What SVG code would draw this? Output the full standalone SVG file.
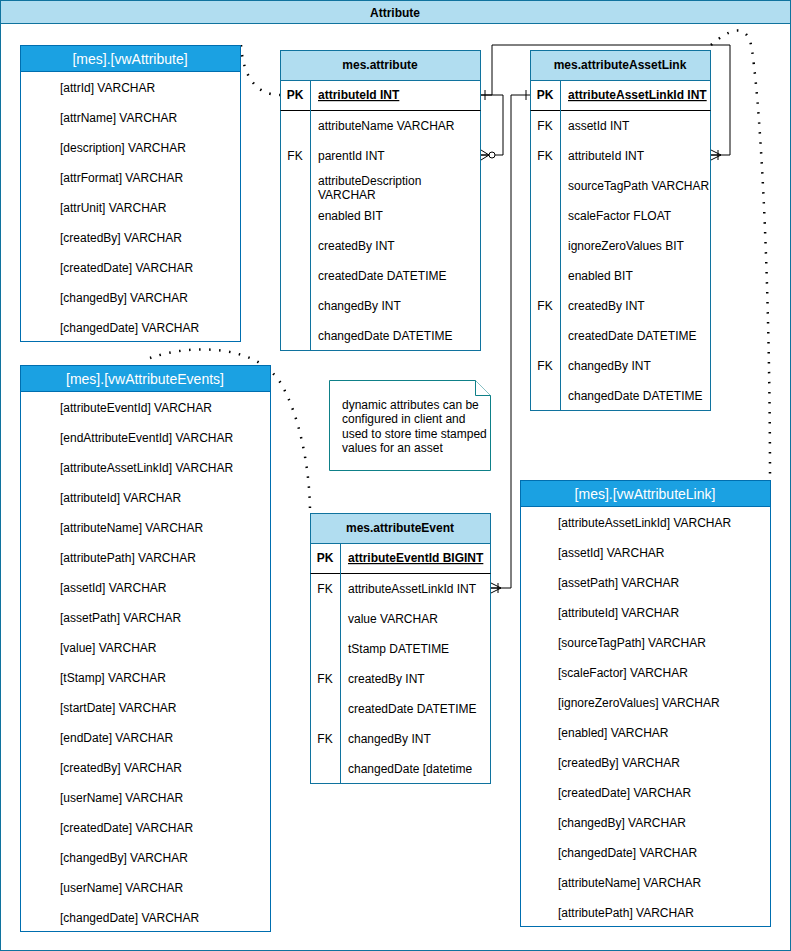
<svg xmlns="http://www.w3.org/2000/svg" width="791" height="951" viewBox="0 0 791 951">
<style>
text{font-family:"Liberation Sans",Arial,sans-serif;font-size:12px;fill:#000}
.title{font-weight:bold;text-anchor:middle}
.vh{font-size:14px;fill:#fff;text-anchor:middle}
.th{font-weight:bold;text-anchor:middle}
.key{text-anchor:middle}
.pk{font-weight:bold;text-decoration:underline}
.pkl{font-weight:bold;text-anchor:middle}
.box{fill:#fff;stroke:#10739E;stroke-width:1}
.hdr{fill:#B1DDF0;stroke:#10739E;stroke-width:1}
.vbox{fill:#fff;stroke:#006EAF;stroke-width:1}
.vhdr{fill:#1BA1E2;stroke:#006EAF;stroke-width:1}
.ln{stroke:#000;stroke-width:1;fill:none}
.dot{stroke:#000;stroke-width:2.5;fill:none;stroke-dasharray:1.5 8.5;stroke-linecap:butt}
.note{fill:#fff;stroke:#0E8088;stroke-width:1}
</style>
<defs>
<marker id="one" markerUnits="userSpaceOnUse" viewBox="-2 -7 14 14" refX="0" refY="0" markerWidth="14" markerHeight="14" orient="auto" overflow="visible">
<path d="M4,-5 L4,5" stroke="#000" stroke-width="1" fill="none"/>
</marker>
<marker id="oneMany" markerUnits="userSpaceOnUse" viewBox="-14 -7 16 14" refX="0" refY="0" markerWidth="16" markerHeight="14" orient="auto" overflow="visible">
<path d="M-10,0 L0,-5 M-10,0 L0,5 M-10,0 L0,0 M-7,-5 L-7,5" stroke="#000" stroke-width="1" fill="none"/>
</marker>
<marker id="zeroMany" markerUnits="userSpaceOnUse" viewBox="-16 -7 18 14" refX="0" refY="0" markerWidth="18" markerHeight="14" orient="auto" overflow="visible">
<path d="M-8,0 L0,-5 M-8,0 L0,5 M-8,0 L0,0" stroke="#000" stroke-width="1" fill="none"/>
<circle cx="-11" cy="0" r="3" fill="#fff" stroke="#000" stroke-width="1"/>
</marker>
</defs>

<g id="container">
<rect x="0.5" y="0.5" width="790" height="950" fill="#fff" stroke="#10739E"/>
<rect x="0.5" y="0.5" width="790" height="23" class="hdr"/>
<text x="395" y="17" class="title">Attribute</text>
</g>

<g id="connectors">
<path class="dot" d="M241,45 C243,75 255,95 280,95"/>
<path class="dot" d="M150,358 C190,344 255,344 280,382 C300,415 310,470 310,513"/>
<path class="dot" d="M711,45 C728,30 748,20 752,50 C762,120 770,300 770,480"/>
<path class="ln" d="M481,95 L503,95 L503,155 L481,155" marker-start="url(#one)" marker-end="url(#zeroMany)"/>
<path class="ln" d="M481,95 L492,95 L492,45 L730,45 L730,155 L711,155" marker-end="url(#oneMany)"/>
<path class="ln" d="M530,95 L511,95 L511,588 L491,588" marker-start="url(#one)" marker-end="url(#oneMany)"/>
</g>

<g id="vwAttribute">
<rect x="20.5" y="45.5" width="220" height="296" class="vbox"/>
<rect x="20.5" y="45.5" width="220" height="26" class="vhdr"/>
<text x="130" y="64" class="vh">[mes].[vwAttribute]</text>
<text x="60" y="92">[attrId] VARCHAR</text>
<text x="60" y="122">[attrName] VARCHAR</text>
<text x="60" y="152">[description] VARCHAR</text>
<text x="60" y="182">[attrFormat] VARCHAR</text>
<text x="60" y="212">[attrUnit] VARCHAR</text>
<text x="60" y="242">[createdBy] VARCHAR</text>
<text x="60" y="272">[createdDate] VARCHAR</text>
<text x="60" y="302">[changedBy] VARCHAR</text>
<text x="60" y="332">[changedDate] VARCHAR</text>
</g>

<g id="mes.attribute">
<rect x="280.5" y="50.5" width="200" height="300" class="box"/>
<rect x="280.5" y="50.5" width="200" height="30" class="hdr"/>
<text x="380" y="69" class="th">mes.attribute</text>
<line x1="280.5" y1="110.5" x2="480.5" y2="110.5" stroke="#000"/>
<line x1="310.5" y1="80.5" x2="310.5" y2="350.5" stroke="#10739E"/>
<text x="295" y="99" class="pkl">PK</text>
<text x="318" y="99" class="pk">attributeId INT</text>
<text x="318" y="130">attributeName VARCHAR</text>
<text x="295" y="160" class="key">FK</text>
<text x="318" y="160">parentId INT</text>
<text x="318" y="185">attributeDescription</text>
<text x="318" y="199">VARCHAR</text>
<text x="318" y="220">enabled BIT</text>
<text x="318" y="250">createdBy INT</text>
<text x="318" y="280">createdDate DATETIME</text>
<text x="318" y="310">changedBy INT</text>
<text x="318" y="340">changedDate DATETIME</text>
</g>

<g id="mes.attributeAssetLink">
<rect x="530.5" y="50.5" width="180" height="360" class="box"/>
<rect x="530.5" y="50.5" width="180" height="30" class="hdr"/>
<text x="620" y="69" class="th">mes.attributeAssetLink</text>
<line x1="530.5" y1="110.5" x2="710.5" y2="110.5" stroke="#000"/>
<line x1="560.5" y1="80.5" x2="560.5" y2="410.5" stroke="#10739E"/>
<text x="545" y="99" class="pkl">PK</text>
<text x="568" y="99" class="pk">attributeAssetLinkId INT</text>
<text x="545" y="130" class="key">FK</text>
<text x="568" y="130">assetId INT</text>
<text x="545" y="160" class="key">FK</text>
<text x="568" y="160">attributeId INT</text>
<text x="568" y="190">sourceTagPath VARCHAR</text>
<text x="568" y="220">scaleFactor FLOAT</text>
<text x="568" y="250">ignoreZeroValues BIT</text>
<text x="568" y="280">enabled BIT</text>
<text x="545" y="310" class="key">FK</text>
<text x="568" y="310">createdBy INT</text>
<text x="568" y="340">createdDate DATETIME</text>
<text x="545" y="370" class="key">FK</text>
<text x="568" y="370">changedBy INT</text>
<text x="568" y="400">changedDate DATETIME</text>
</g>

<g id="vwAttributeEvents">
<rect x="20.5" y="365.5" width="250" height="566" class="vbox"/>
<rect x="20.5" y="365.5" width="250" height="26" class="vhdr"/>
<text x="145" y="384" class="vh">[mes].[vwAttributeEvents]</text>
<text x="60" y="412">[attributeEventId] VARCHAR</text>
<text x="60" y="442">[endAttributeEventId] VARCHAR</text>
<text x="60" y="472">[attributeAssetLinkId] VARCHAR</text>
<text x="60" y="502">[attributeId] VARCHAR</text>
<text x="60" y="532">[attributeName] VARCHAR</text>
<text x="60" y="562">[attributePath] VARCHAR</text>
<text x="60" y="592">[assetId] VARCHAR</text>
<text x="60" y="622">[assetPath] VARCHAR</text>
<text x="60" y="652">[value] VARCHAR</text>
<text x="60" y="682">[tStamp] VARCHAR</text>
<text x="60" y="712">[startDate] VARCHAR</text>
<text x="60" y="742">[endDate] VARCHAR</text>
<text x="60" y="772">[createdBy] VARCHAR</text>
<text x="60" y="802">[userName] VARCHAR</text>
<text x="60" y="832">[createdDate] VARCHAR</text>
<text x="60" y="862">[changedBy] VARCHAR</text>
<text x="60" y="892">[userName] VARCHAR</text>
<text x="60" y="922">[changedDate] VARCHAR</text>
</g>

<g id="note">
<path d="M329.5,380.5 L475.5,380.5 L490.5,395.5 L490.5,470.5 L329.5,470.5 Z" class="note"/>
<path d="M475.5,380.5 L475.5,395.5 L490.5,395.5" class="note" fill="none"/>
<text x="342" y="409">dynamic attributes can be</text>
<text x="342" y="423">configured in client and</text>
<text x="342" y="438">used to store time stamped</text>
<text x="342" y="452">values for an asset</text>
</g>

<g id="mes.attributeEvent">
<rect x="310.5" y="513.5" width="180" height="270" class="box"/>
<rect x="310.5" y="513.5" width="180" height="30" class="hdr"/>
<text x="400" y="532" class="th">mes.attributeEvent</text>
<line x1="310.5" y1="573.5" x2="490.5" y2="573.5" stroke="#000"/>
<line x1="340.5" y1="543.5" x2="340.5" y2="783.5" stroke="#10739E"/>
<text x="325" y="562" class="pkl">PK</text>
<text x="348" y="562" class="pk">attributeEventId BIGINT</text>
<text x="325" y="593" class="key">FK</text>
<text x="348" y="593">attributeAssetLinkId INT</text>
<text x="348" y="623">value VARCHAR</text>
<text x="348" y="653">tStamp DATETIME</text>
<text x="325" y="683" class="key">FK</text>
<text x="348" y="683">createdBy INT</text>
<text x="348" y="713">createdDate DATETIME</text>
<text x="325" y="743" class="key">FK</text>
<text x="348" y="743">changedBy INT</text>
<text x="348" y="773">changedDate [datetime</text>
</g>

<g id="vwAttributeLink">
<rect x="520.5" y="480.5" width="250" height="446" class="vbox"/>
<rect x="520.5" y="480.5" width="250" height="26" class="vhdr"/>
<text x="645" y="499" class="vh">[mes].[vwAttributeLink]</text>
<text x="558" y="527">[attributeAssetLinkId] VARCHAR</text>
<text x="558" y="557">[assetId] VARCHAR</text>
<text x="558" y="587">[assetPath] VARCHAR</text>
<text x="558" y="617">[attributeId] VARCHAR</text>
<text x="558" y="647">[sourceTagPath] VARCHAR</text>
<text x="558" y="677">[scaleFactor] VARCHAR</text>
<text x="558" y="707">[ignoreZeroValues] VARCHAR</text>
<text x="558" y="737">[enabled] VARCHAR</text>
<text x="558" y="767">[createdBy] VARCHAR</text>
<text x="558" y="797">[createdDate] VARCHAR</text>
<text x="558" y="827">[changedBy] VARCHAR</text>
<text x="558" y="857">[changedDate] VARCHAR</text>
<text x="558" y="887">[attributeName] VARCHAR</text>
<text x="558" y="917">[attributePath] VARCHAR</text>
</g>
</svg>
